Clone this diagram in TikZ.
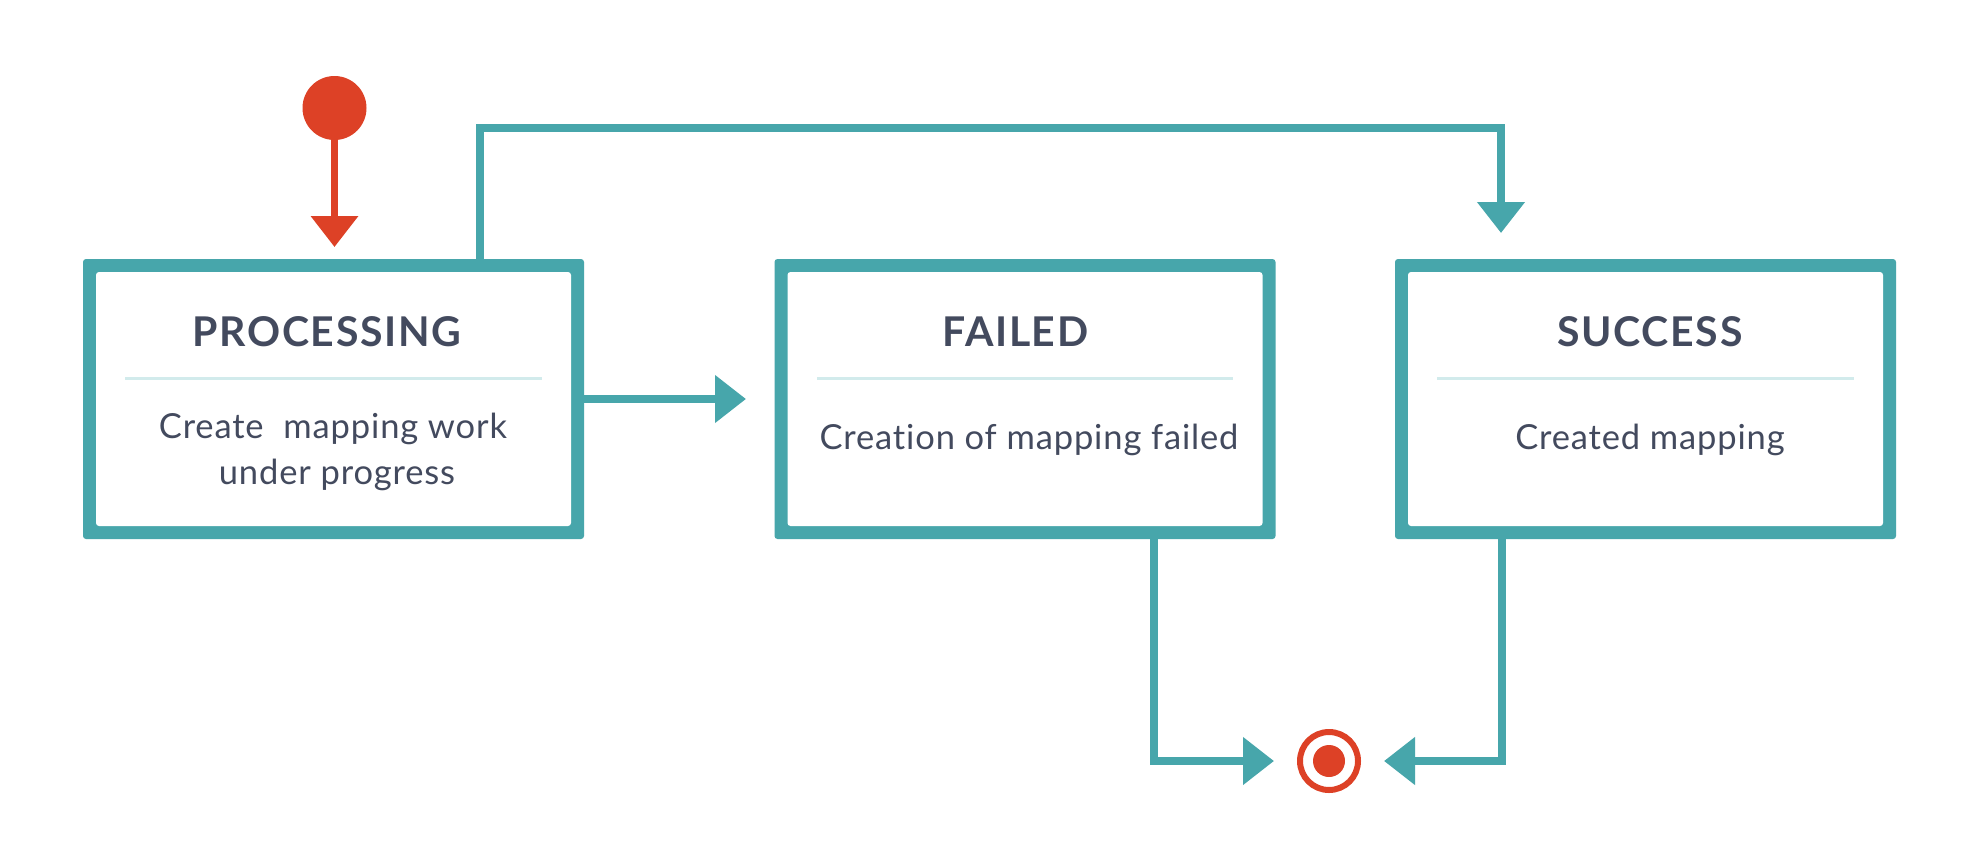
\documentclass[tikz,border=0pt]{standalone}
\usepackage{fontspec}
\setmainfont{Lato}
\newfontfamily\titlefont{Lato}[LetterSpace=4]
\newfontfamily\bodyfont{Lato}[LetterSpace=2.5,Ligatures=NoCommon]
\usetikzlibrary{arrows.meta}
\definecolor{tealc}{HTML}{47A6AB}
\definecolor{redc}{HTML}{DD4126}
\definecolor{inkc}{HTML}{434A5E}
\definecolor{sepc}{HTML}{D2EBEC}
\tikzset{
  statebox/.style={fill=tealc, rounded corners=3pt,
    minimum width=501pt, minimum height=280pt, inner sep=0pt, outer sep=0pt},
  stateinner/.style={fill=white, rounded corners=3pt,
    minimum width=475pt, minimum height=254pt, inner sep=0pt, outer sep=0pt},
  titletxt/.style={anchor=base, inner sep=0pt, text=inkc, font=\titlefont\fontsize{41}{49}\selectfont\bfseries},
  bodytxt/.style={anchor=base, inner sep=0pt, text=inkc, font=\bodyfont\fontsize{34.5}{41}\selectfont},
  sepline/.style={draw=sepc, line width=3pt},
  conn/.style={draw=tealc, line width=8pt, -{Triangle[length=31pt,width=46pt]}},
  redconn/.style={draw=redc, line width=7pt, -{Triangle[length=31pt,width=46pt]}},
}
\begin{document}
\begin{tikzpicture}[x=1pt,y=-1pt]
\useasboundingbox[fill=white] (0,0) rectangle (1978,847);
% boxes
\node[statebox] (proc) at (333.5,399) {};
\node[stateinner] (procin) at (proc.center) {};
\node[statebox] (fail) at (1025,399) {};
\node[stateinner] (failin) at (fail.center) {};
\node[statebox] (succ) at (1645.5,399) {};
\node[stateinner] (succin) at (succ.center) {};
% separators
\draw[sepline] (125,378) -- (542,378);
\draw[sepline] (817,378) -- (1233,378);
\draw[sepline] (1437,378) -- (1854,378);
% texts
\node[titletxt] (procT) at (327,346) {PROCESSING};
\node[bodytxt] (procB1) at (333,438) {Create\hspace{10pt} mapping work};
\node[bodytxt] (procB2) at (337,484) {under progress};
\node[titletxt] (failT) at (1015.5,346) {FAILED};
\node[bodytxt] (failB) at (1029,449) {Creation of mapping failed};
\node[titletxt] (succT) at (1650,346) {SUCCESS};
\node[bodytxt] (succB) at (1650,449) {Created mapping};
% start / end
\node[circle, fill=redc, minimum size=64pt, inner sep=0pt, outer sep=0pt] (start) at (334.5,108) {};
\node[circle, draw=redc, line width=6pt, minimum size=58pt, inner sep=0pt, outer sep=3pt] (end) at (1329,761) {};
\node[circle, fill=redc, minimum size=32pt, inner sep=0pt] (enddot) at (end.center) {};
% connectors
\draw[redconn, shorten >=12pt] (start.south) -- (start.south |- proc.north);
\coordinate (lt) at (480,128);
\coordinate (rt) at (1501,128);
\draw[conn, shorten >=26pt] (proc.north -| lt) -- (lt) -- (rt) -- (rt |- succ.north);
\draw[conn, shorten >=28.5pt] (proc.east) -- (fail.west);
\coordinate (fc) at (1154,761);
\coordinate (sc) at (1502,761);
\draw[conn, shorten >=23pt] (fail.south -| fc) -- (fc) -- (end);
\draw[conn, shorten >=23pt] (succ.south -| sc) -- (sc) -- (end);
\end{tikzpicture}
\end{document}
